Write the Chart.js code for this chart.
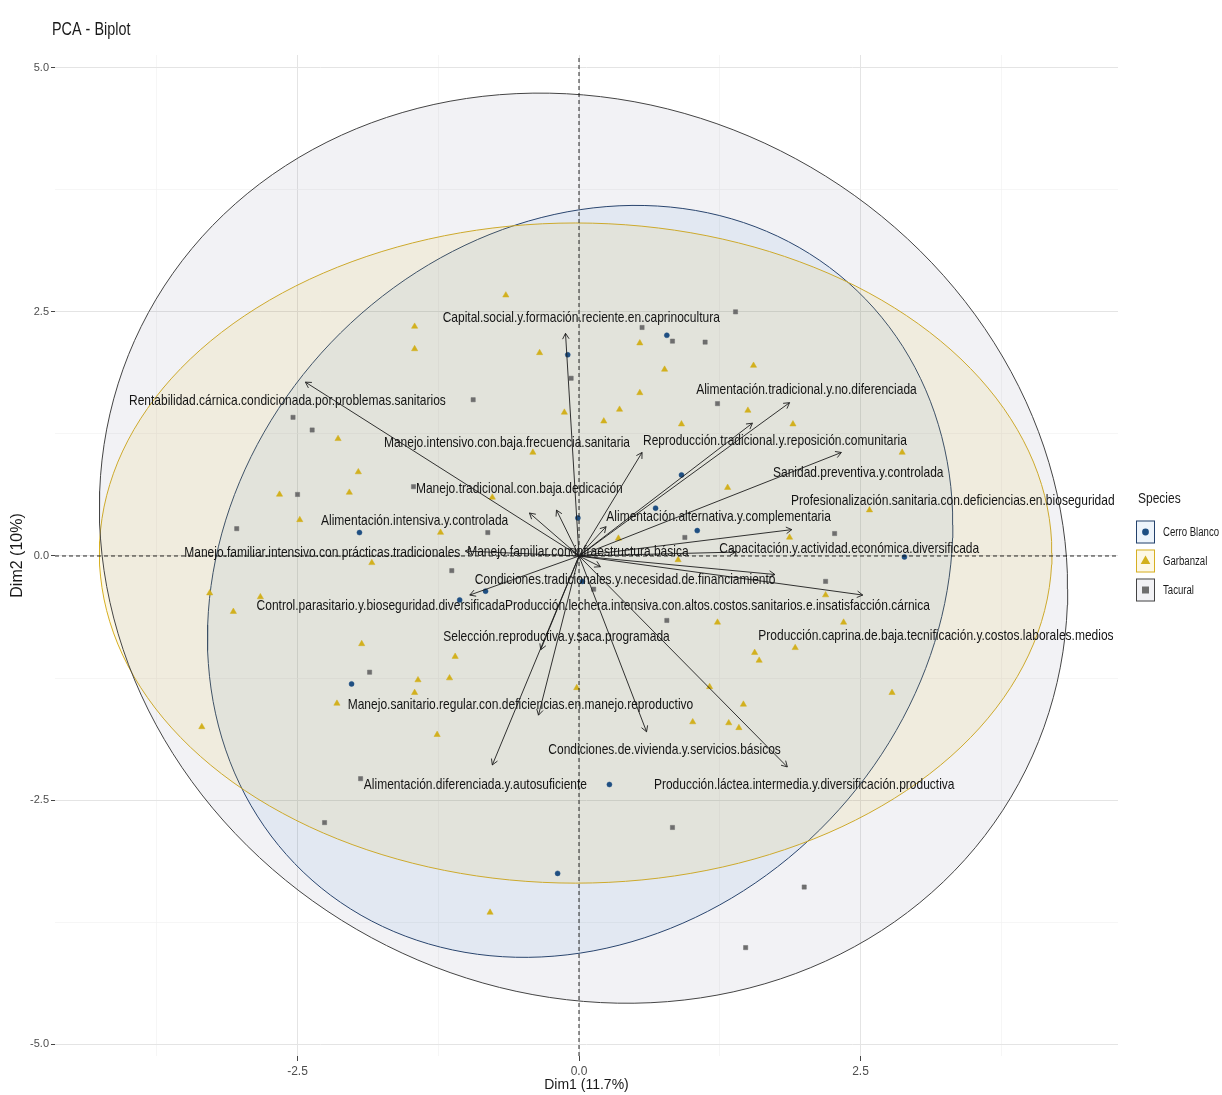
<!DOCTYPE html>
<html>
<head>
<meta charset="utf-8">
<script src="https://cdn.jsdelivr.net/npm/chart.js@4.4.1/dist/chart.umd.min.js"></script>
<style>
  html, body { margin: 0; padding: 0; background: #ffffff; }
  canvas { display: block; }
</style>
</head>
<body>
<canvas id="biplot" width="1222" height="1095"></canvas>
<script>
// ---- Groups (individuals coloured by Species) ----
const groups = ['Cerro Blanco', 'Garbanzal', 'Tacural'];

// Individual coordinates on Dim1 / Dim2
const cerroX = [-0.10, 0.78, 0.91, 0.68, 1.05, 2.89, -1.95, -0.01, 0.03, -0.83, -1.06, -2.02, 0.27, -0.19];
const cerroY = [2.06, 2.26, 0.83, 0.49, 0.26, -0.01, 0.24, 0.39, -0.26, -0.36, -0.45, -1.31, -2.34, -3.25];

const garbX = [-0.65, -1.46, -1.46, -0.35, -0.13, -2.14, -0.41, -1.96, -2.66, -2.04, -2.48, -1.23, -1.84, -3.28,
  -2.83, -3.07, -1.93, -1.10, -2.15, -1.43, -1.15, -1.46, -1.26, -3.35, -0.02, 0.54, 0.76, 1.55, 0.54, 0.36,
  1.50, 0.22, 0.91, 1.90, 2.87, 1.32, 2.58, 1.87, 0.35, 0.88, 2.19, 1.23, 2.35, 1.92, 1.56, 1.60, 1.46, 1.16,
  1.01, 1.33, 1.42, 2.78, -0.79, -0.77];
const garbY = [2.67, 2.35, 2.12, 2.08, 1.47, 1.20, 1.06, 0.86, 0.63, 0.65, 0.37, 0.24, -0.07, -0.38,
  -0.42, -0.57, -0.90, -1.03, -1.51, -1.27, -1.25, -1.40, -1.83, -1.75, -1.35, 2.18, 1.91, 1.95, 1.67, 1.50,
  1.49, 1.38, 1.35, 1.35, 1.06, 0.70, 0.47, 0.19, 0.18, -0.04, -0.40, -0.68, -0.68, -0.94, -0.99, -1.07, -1.52, -1.34,
  -1.70, -1.71, -1.76, -1.40, -3.65, 0.60];

const tacX = [1.39, 0.56, 0.83, 1.12, -0.07, -0.94, 1.23, -2.54, -2.37, -2.50, -1.47, -3.04, -0.81, 0.94, 2.27,
  -1.13, 0.13, 2.19, 0.78, -1.86, -1.94, -2.26, 0.83, 2.00, 1.48];
const tacY = [2.50, 2.34, 2.20, 2.19, 1.82, 1.60, 1.56, 1.42, 1.29, 0.63, 0.71, 0.28, 0.24, 0.19, 0.23,
  -0.15, -0.34, -0.26, -0.66, -1.19, -2.28, -2.73, -2.78, -3.39, -4.01];

// Concentration ellipses per group: centre, half extents and correlation
const ellCx = [0.01, -0.03, 0.04];
const ellCy = [-0.26, 0.03, 0.08];
const ellRx = [3.31, 4.23, 4.30];
const ellRy = [3.85, 3.38, 4.66];
const ellRho = [0.15, 0.00, -0.09];

// ---- Variables (arrows) ----
const varNames = [
  'Capital.social.y.formación.reciente.en.caprinocultura',
  'Rentabilidad.cárnica.condicionada.por.problemas.sanitarios',
  'Alimentación.tradicional.y.no.diferenciada',
  'Manejo.intensivo.con.baja.frecuencia.sanitaria',
  'Reproducción.tradicional.y.reposición.comunitaria',
  'Sanidad.preventiva.y.controlada',
  'Profesionalización.sanitaria.con.deficiencias.en.bioseguridad',
  'Manejo.tradicional.con.baja.dedicación',
  'Alimentación.intensiva.y.controlada',
  'Alimentación.alternativa.y.complementaria',
  'Manejo.familiar.intensivo.con.prácticas.tradicionales',
  'Manejo.familiar.con.infraestructura.básica',
  'Capacitación.y.actividad.económica.diversificada',
  'Condiciones.tradicionales.y.necesidad.de.financiamiento',
  'Control.parasitario.y.bioseguridad.diversificada',
  'Producción.lechera.intensiva.con.altos.costos.sanitarios.e.insatisfacción.cárnica',
  'Producción.caprina.de.baja.tecnificación.y.costos.laborales.medios',
  'Selección.reproductiva.y.saca.programada',
  'Manejo.sanitario.regular.con.deficiencias.en.manejo.reproductivo',
  'Condiciones.de.vivienda.y.servicios.básicos',
  'Alimentación.diferenciada.y.autosuficiente',
  'Producción.láctea.intermedia.y.diversificación.productiva'
];
const varX = [-0.12, -2.43, 1.87, 0.56, 1.54, 2.33, 1.89, -0.20, -0.44, 0.24, -1.01, -0.08, 1.39, 0.19, -0.97, 1.74, 2.52, -0.34, -0.36, 0.60, -0.77, 1.85];
const varY = [2.28, 1.78, 1.57, 1.06, 1.36, 1.06, 0.27, 0.47, 0.44, 0.30, 0.05, 0.08, 0.04, -0.11, -0.40, -0.19, -0.40, -0.96, -1.63, -1.80, -2.14, -2.16];
// Repelled label anchors (label centres) in Dim1 / Dim2 units
const labX = [0.02, -2.59, 2.02, -0.64, 1.74, 2.48, 3.32, -0.53, -1.46, 1.24, -2.28, -0.01, 2.40, 0.41, -1.76, 1.23, 3.17, -0.20, -0.52, 0.76, -0.92, 2.00];
const labY = [2.44, 1.59, 1.70, 1.16, 1.18, 0.85, 0.56, 0.69, 0.36, 0.40, 0.03, 0.04, 0.07, -0.24, -0.51, -0.51, -0.82, -0.83, -1.52, -1.99, -2.34, -2.34];

// ---- Axes ----
const xLimits = [-4.654, 4.787];
const yLimits = [-5.12, 5.13];
const xMajorTicks = [-2.5, 0, 2.5];
const xTickLabels = ['-2.5', '0.0', '2.5'];
const xMinorTicks = [-3.75, -1.25, 1.25, 3.75];
const yMajorTicks = [-5, -2.5, 0, 2.5, 5];
const yTickLabels = ['-5.0', '-2.5', '0.0', '2.5', '5.0'];
const yMinorTicks = [-3.75, -1.25, 1.25, 3.75];

// ---- Styling ----
const FONT = "'Liberation Sans', Arial, Helvetica, sans-serif";
const SQUISH = 0.8;            // horizontal text compression
const pointColor = ['#1F4F82', '#D2B01E', '#6E6E6E'];
const pointStyle = ['circle', 'triangle', 'rect'];
const pointRadius = [2.5, 3.6, 3.0];
const ellLine = ['#23416B', '#D6AF22', '#444444'];
const ellFill = ['rgba(50,130,210,0.09)', 'rgba(235,190,30,0.11)', 'rgba(110,110,140,0.09)'];

function ellipsePoints(i) {
  const pts = [];
  const n = 180;
  const s = Math.sqrt(1 - ellRho[i] * ellRho[i]);
  for (let k = 0; k <= n; k++) {
    const t = 2 * Math.PI * k / n;
    pts.push({
      x: ellCx[i] + ellRx[i] * Math.cos(t),
      y: ellCy[i] + ellRy[i] * (ellRho[i] * Math.cos(t) + s * Math.sin(t))
    });
  }
  return pts;
}
const zip = (xs, ys) => xs.map((x, i) => ({ x, y: ys[i] }));
const near = (v, arr) => arr.some(a => Math.abs(a - v) < 1e-6);

function squishText(ctx, text, x, y, align, font, color) {
  ctx.save();
  ctx.font = font;
  ctx.fillStyle = color;
  ctx.textBaseline = 'middle';
  ctx.textAlign = align;
  ctx.translate(x, y);
  ctx.scale(SQUISH, 1);
  ctx.fillText(text, 0, 0);
  ctx.restore();
}

const datasets = [];
// ellipses (drawn first)
groups.forEach((g, i) => {
  datasets.push({
    type: 'line', label: g + ' ellipse', data: ellipsePoints(i),
    borderColor: ellLine[i], borderWidth: 1, backgroundColor: ellFill[i],
    fill: 'shape', pointRadius: 0, tension: 0, order: 40 - i
  });
});
// individuals
const groupData = [zip(cerroX, cerroY), zip(garbX, garbY), zip(tacX, tacY)];
groups.forEach((g, i) => {
  datasets.push({
    type: 'scatter', label: g, data: groupData[i],
    pointStyle: pointStyle[i], pointRadius: pointRadius[i],
    backgroundColor: pointColor[i], borderColor: pointColor[i], borderWidth: 0.5,
    order: 20
  });
});
// reference lines through the origin
datasets.push({
  type: 'line', label: 'h0', data: [{ x: xLimits[0], y: 0 }, { x: xLimits[1], y: 0 }],
  borderColor: '#111', borderWidth: 0.9, borderDash: [4, 3], pointRadius: 0, fill: false, order: 10
});
datasets.push({
  type: 'line', label: 'v0', data: [{ x: 0, y: yLimits[0] }, { x: 0, y: yLimits[1] }],
  borderColor: '#111', borderWidth: 0.9, borderDash: [4, 3], pointRadius: 0, fill: false, order: 10
});
// variable arrows
varNames.forEach((name, i) => {
  datasets.push({
    type: 'line', label: name, isArrow: true, labelIndex: i,
    data: [{ x: 0, y: 0 }, { x: varX[i], y: varY[i] }],
    borderColor: '#1c1c1c', borderWidth: 0.9, pointRadius: 0, fill: false, order: 5
  });
});

const biplotDecor = {
  id: 'biplotDecor',
  afterDatasetsDraw(chart) {
    const ctx = chart.ctx;
    const xs = chart.scales.x, ys = chart.scales.y;
    // arrow heads
    chart.data.datasets.forEach((ds, di) => {
      if (!ds.isArrow) return;
      const meta = chart.getDatasetMeta(di);
      const p0 = meta.data[0], p1 = meta.data[1];
      const ang = Math.atan2(p1.y - p0.y, p1.x - p0.x);
      const len = 6.5, spread = Math.PI / 6;
      ctx.save();
      ctx.strokeStyle = '#1c1c1c';
      ctx.lineWidth = 0.9;
      ctx.beginPath();
      ctx.moveTo(p1.x - len * Math.cos(ang - spread), p1.y - len * Math.sin(ang - spread));
      ctx.lineTo(p1.x, p1.y);
      ctx.lineTo(p1.x - len * Math.cos(ang + spread), p1.y - len * Math.sin(ang + spread));
      ctx.stroke();
      ctx.restore();
    });
    // variable labels
    varNames.forEach((name, i) => {
      squishText(ctx, name, xs.getPixelForValue(labX[i]), ys.getPixelForValue(labY[i]),
        'center', '15px ' + FONT, '#141414');
    });
  },
  afterDraw(chart) {
    const ctx = chart.ctx;
    const area = chart.chartArea;
    // title
    squishText(ctx, 'PCA - Biplot', area.left - 3, 30, 'left', '18px ' + FONT, '#1a1a1a');
    // legend
    const lx = area.right + 18;
    squishText(ctx, 'Species', lx + 2, 499, 'left', '15px ' + FONT, '#1a1a1a');
    groups.forEach((g, i) => {
      const cy = 532 + i * 29;
      const bx = lx, bw = 19, bh = 23;
      ctx.save();
      ctx.fillStyle = '#ffffff';
      ctx.fillRect(bx, cy - bh / 2, bw, bh);
      ctx.fillStyle = ellFill[i];
      ctx.fillRect(bx, cy - bh / 2, bw, bh);
      ctx.strokeStyle = ellLine[i];
      ctx.lineWidth = 1;
      ctx.strokeRect(bx + 0.5, cy - bh / 2 + 0.5, bw - 1, bh - 1);
      ctx.fillStyle = pointColor[i];
      const cx = bx + bw / 2;
      ctx.beginPath();
      if (pointStyle[i] === 'circle') {
        ctx.arc(cx, cy, 3.4, 0, Math.PI * 2);
      } else if (pointStyle[i] === 'triangle') {
        ctx.moveTo(cx, cy - 5.5); ctx.lineTo(cx + 4.8, cy + 3); ctx.lineTo(cx - 4.8, cy + 3); ctx.closePath();
      } else {
        ctx.rect(cx - 3.5, cy - 3.5, 7, 7);
      }
      ctx.fill();
      ctx.restore();
      squishText(ctx, g, bx + bw + 8, cy + 1, 'left', '12px ' + FONT, '#1a1a1a');
    });
  }
};

new Chart(document.getElementById('biplot'), {
  type: 'scatter',
  data: { datasets },
  options: {
    responsive: false,
    animation: false,
    devicePixelRatio: 1,
    events: [],
    layout: { padding: { left: 0, right: 104, top: 55, bottom: 0 } },
    plugins: { legend: { display: false }, tooltip: { enabled: false }, title: { display: false } },
    scales: {
      x: {
        type: 'linear', min: xLimits[0], max: xLimits[1],
        afterBuildTicks: s => { s.ticks = xMinorTicks.concat(xMajorTicks).sort((a, b) => a - b).map(v => ({ value: v })); },
        afterFit: s => { s.height = 39; },
        ticks: {
          autoSkip: false, maxRotation: 0, padding: 3, color: '#4d4d4d',
          font: { family: FONT, size: 12 },
          callback: v => { const k = xMajorTicks.findIndex(m => Math.abs(m - v) < 1e-6); return k >= 0 ? xTickLabels[k] : ''; }
        },
        grid: {
          color: c => near(c.tick.value, xMajorTicks) ? '#E4E4E4' : '#F2F2F2',
          lineWidth: c => near(c.tick.value, xMajorTicks) ? 1 : 0.7,
          tickLength: 5,
          tickColor: c => near(c.tick.value, xMajorTicks) ? '#444' : 'rgba(0,0,0,0)'
        },
        border: { display: false },
        title: { display: true, text: 'Dim1 (11.7%)', color: '#1a1a1a', font: { family: FONT, size: 14 }, padding: { top: 0, bottom: 1 } }
      },
      y: {
        type: 'linear', min: yLimits[0], max: yLimits[1],
        afterBuildTicks: s => { s.ticks = yMinorTicks.concat(yMajorTicks).sort((a, b) => a - b).map(v => ({ value: v })); },
        afterFit: s => { s.width = 55; },
        ticks: {
          autoSkip: false, padding: 2, color: '#4d4d4d',
          font: { family: FONT, size: 11 },
          callback: v => { const k = yMajorTicks.findIndex(m => Math.abs(m - v) < 1e-6); return k >= 0 ? yTickLabels[k] : ''; }
        },
        grid: {
          color: c => near(c.tick.value, yMajorTicks) ? '#E4E4E4' : '#F2F2F2',
          lineWidth: c => near(c.tick.value, yMajorTicks) ? 1 : 0.7,
          tickLength: 4,
          tickColor: c => near(c.tick.value, yMajorTicks) ? '#444' : 'rgba(0,0,0,0)'
        },
        border: { display: false },
        title: { display: true, text: 'Dim2 (10%)', color: '#1a1a1a', font: { family: FONT, size: 16 }, padding: { top: 8, bottom: 0 } }
      }
    }
  },
  plugins: [biplotDecor]
});
</script>
</body>
</html>
